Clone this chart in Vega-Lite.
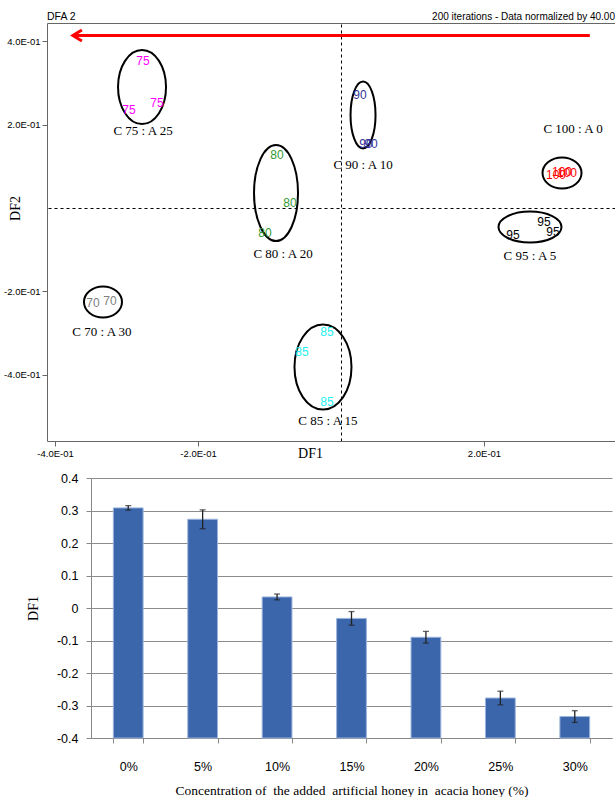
{
  "$schema": "https://vega.github.io/schema/vega-lite/v6.json",
  "padding": {"left": 3, "top": 12, "right": 0, "bottom": 0},
  "spacing": 12,
  "config": {"view": {"stroke": null}},
  "vconcat": [
    {
      "width": 568,
      "height": 418,
      "layer": [
        {
          "data": {"values": [
            {"g": "70", "x": -0.3329, "y": -0.2256},
            {"g": "75", "x": -0.2783, "y": 0.2904},
            {"g": "80", "x": -0.0909, "y": 0.0360},
            {"g": "85", "x": -0.0252, "y": -0.3816},
            {"g": "90", "x": 0.0308, "y": 0.2232},
            {"g": "95", "x": 0.2643, "y": -0.0456},
            {"g": "100", "x": 0.3091, "y": 0.0840}
          ]},
          "mark": {"type": "point", "filled": false, "stroke": "#000", "strokeWidth": 2, "opacity": 1, "size": 4},
          "encoding": {
            "x": {"field": "x", "type": "quantitative", "scale": {"domain": [-0.4112, 0.3832], "nice": false, "zero": false},
              "axis": {"orient": "bottom", "values": [-0.4, -0.2, 0.2], "labelExpr": "(datum.value < 0 ? '-' : '') + format(abs(datum.value) * 10, '.1f') + 'E-01'", "grid": false, "labelFlush": false, "domainColor": "#666", "tickColor": "#666", "tickSize": 5, "labelPadding": 2, "labelFont": "Liberation Sans Narrow, Arial Narrow, Liberation Sans, sans-serif", "labelFontSize": 9.5, "labelColor": "#000", "title": "DF1", "titleFont": "Liberation Serif, Times New Roman, serif", "titleFontSize": 14, "titleFontWeight": "normal", "titleColor": "#000", "titleX": 263, "titleY": 12, "titleBaseline": "middle", "titleAlign": "center"}},
            "y": {"field": "y", "type": "quantitative", "scale": {"domain": [-0.559, 0.444], "nice": false, "zero": false},
              "axis": {"orient": "left", "values": [-0.4, -0.2, 0.2, 0.4], "labelExpr": "(datum.value < 0 ? '-' : '') + format(abs(datum.value) * 10, '.1f') + 'E-01'", "grid": false, "labelFlush": false, "domainColor": "#666", "tickColor": "#666", "tickSize": 5, "labelPadding": 2, "labelFont": "Liberation Sans Narrow, Arial Narrow, Liberation Sans, sans-serif", "labelFontSize": 9.5, "labelColor": "#000", "minExtent": 44, "maxExtent": 44, "title": "DF2", "titleFont": "Liberation Serif, Times New Roman, serif", "titleFontSize": 14, "titleFontWeight": "normal", "titleColor": "#000", "titleAngle": 270, "titleBaseline": "middle", "titleAlign": "center", "titleX": -32, "titleY": 185}},
            "shape": {"field": "g", "type": "nominal", "legend": null, "scale": {"domain": ["70", "75", "80", "85", "90", "95", "100"], "range": [
              "M 19 0 C 19 8.561 10.494 15.5 0 15.5 C -10.494 15.5 -19 8.561 -19 0 C -19 -8.561 -10.494 -15.5 0 -15.5 C 10.494 -15.5 19 -8.561 19 0 Z",
              "M 24 0 C 24 20.435 13.255 37 0 37 C -13.255 37 -24 20.435 -24 0 C -24 -20.435 -13.255 -37 0 -37 C 13.255 -37 24 -20.435 24 0 Z",
              "M 22 0 C 22 26.51 12.151 48 0 48 C -12.151 48 -22 26.51 -22 0 C -22 -26.51 -12.151 -48 0 -48 C 12.151 -48 22 -26.51 22 0 Z",
              "M 28.5 0 C 28.5 23.473 15.741 42.5 0 42.5 C -15.741 42.5 -28.5 23.473 -28.5 0 C -28.5 -23.473 -15.741 -42.5 0 -42.5 C 15.741 -42.5 28.5 -23.473 28.5 0 Z",
              "M 12.5 0 C 12.5 18.502 6.904 33.5 0 33.5 C -6.904 33.5 -12.5 18.502 -12.5 0 C -12.5 -18.502 -6.904 -33.5 0 -33.5 C 6.904 -33.5 12.5 -18.502 12.5 0 Z",
              "M 31.5 0 C 31.5 8.561 17.397 15.5 0 15.5 C -17.397 15.5 -31.5 8.561 -31.5 0 C -31.5 -8.561 -17.397 -15.5 0 -15.5 C 17.397 -15.5 31.5 -8.561 31.5 0 Z",
              "M 19.5 0 C 19.5 8.561 10.77 15.5 0 15.5 C -10.77 15.5 -19.5 8.561 -19.5 0 C -19.5 -8.561 -10.77 -15.5 0 -15.5 C 10.77 -15.5 19.5 -8.561 19.5 0 Z"
            ]}}
          }
        },
        {
          "data": {"values": [
            {"g": "75", "x": -0.2769, "y": 0.3528},
            {"g": "75", "x": -0.2965, "y": 0.2352},
            {"g": "75", "x": -0.2574, "y": 0.2520},
            {"g": "90", "x": 0.0266, "y": 0.2712},
            {"g": "90", "x": 0.0350, "y": 0.1536},
            {"g": "90", "x": 0.0420, "y": 0.1536},
            {"g": "80", "x": -0.0895, "y": 0.1272},
            {"g": "80", "x": -0.0713, "y": 0.0120},
            {"g": "80", "x": -0.1063, "y": -0.0600},
            {"g": "100", "x": 0.3007, "y": 0.0792},
            {"g": "100", "x": 0.3091, "y": 0.0864},
            {"g": "100", "x": 0.3161, "y": 0.0840},
            {"g": "95", "x": 0.2839, "y": -0.0336},
            {"g": "95", "x": 0.2965, "y": -0.0576},
            {"g": "95", "x": 0.2406, "y": -0.0648},
            {"g": "70", "x": -0.3469, "y": -0.2280},
            {"g": "70", "x": -0.3231, "y": -0.2232},
            {"g": "85", "x": -0.0196, "y": -0.2976},
            {"g": "85", "x": -0.0546, "y": -0.3456},
            {"g": "85", "x": -0.0196, "y": -0.4656}
          ]},
          "mark": {"type": "text", "font": "Liberation Sans Narrow, Arial Narrow, Liberation Sans, sans-serif", "fontSize": 12},
          "encoding": {
            "x": {"field": "x", "type": "quantitative", "scale": {"domain": [-0.4112, 0.3832], "nice": false, "zero": false}, "axis": null},
            "y": {"field": "y", "type": "quantitative", "scale": {"domain": [-0.559, 0.444], "nice": false, "zero": false}, "axis": null},
            "text": {"field": "g", "type": "nominal"},
            "color": {"field": "g", "type": "nominal", "legend": null, "scale": {"domain": ["70", "75", "80", "85", "90", "95", "100"], "range": ["#808080", "#FF00FF", "#339933", "#22F2F2", "#333399", "#000000", "#FF0000"]}}
          }
        },
        {
          "data": {"values": [
            {"t": "C 75 : A 25", "x": -0.2769, "y": 0.1848},
            {"t": "C 90 : A 10", "x": 0.0308, "y": 0.1032},
            {"t": "C 80 : A 20", "x": -0.0811, "y": -0.1104},
            {"t": "C 100 : A 0", "x": 0.3245, "y": 0.1896},
            {"t": "C 95 : A 5", "x": 0.2643, "y": -0.1152},
            {"t": "C 70 : A 30", "x": -0.3343, "y": -0.2976},
            {"t": "C 85 : A 15", "x": -0.0182, "y": -0.5112}
          ]},
          "mark": {"type": "text", "font": "Liberation Serif, Times New Roman, serif", "fontSize": 13, "color": "#000"},
          "encoding": {
            "x": {"field": "x", "type": "quantitative", "scale": {"domain": [-0.4112, 0.3832], "nice": false, "zero": false},
              "axis": {"orient": "top", "values": [0], "grid": true, "gridDash": [3, 3], "gridColor": "#000", "gridOpacity": 1, "labels": false, "ticks": false, "domain": true, "domainColor": "#666", "title": null}},
            "y": {"field": "y", "type": "quantitative", "scale": {"domain": [-0.559, 0.444], "nice": false, "zero": false},
              "axis": {"orient": "right", "values": [0], "grid": true, "gridDash": [3, 3], "gridColor": "#000", "gridOpacity": 1, "labels": false, "ticks": false, "domain": false, "title": null}},
            "text": {"field": "t", "type": "nominal"}
          }
        },
        {
          "data": {"values": [{"x": -0.373, "x2": 0.348, "y": 0.414}]},
          "mark": {"type": "rule", "color": "#FF0000", "strokeWidth": 3},
          "encoding": {
            "x": {"field": "x", "type": "quantitative", "scale": {"domain": [-0.4112, 0.3832], "nice": false, "zero": false}, "axis": null},
            "x2": {"field": "x2"},
            "y": {"field": "y", "type": "quantitative", "scale": {"domain": [-0.559, 0.444], "nice": false, "zero": false}, "axis": null}
          }
        },
        {
          "data": {"values": [{"x": -0.375, "y": 0.414}]},
          "mark": {"type": "point", "shape": "M 0.9 -0.55 L 0 0 L 0.9 0.55", "size": 400, "filled": false, "stroke": "#FF0000", "strokeWidth": 3, "opacity": 1},
          "encoding": {
            "x": {"field": "x", "type": "quantitative", "scale": {"domain": [-0.4112, 0.3832], "nice": false, "zero": false}, "axis": null},
            "y": {"field": "y", "type": "quantitative", "scale": {"domain": [-0.559, 0.444], "nice": false, "zero": false}, "axis": null}
          }
        },
        {
          "data": {"values": [{"t": "200 iterations - Data normalized by 40.00"}]},
          "mark": {"type": "text", "font": "Liberation Sans Narrow, Arial Narrow, Liberation Sans, sans-serif", "fontSize": 10, "align": "right", "baseline": "alphabetic", "dy": -3, "color": "#000"},
          "encoding": {
            "x": {"datum": 0.3832, "type": "quantitative", "scale": {"domain": [-0.4112, 0.3832], "nice": false, "zero": false}, "axis": null},
            "y": {"datum": 0.444, "type": "quantitative", "scale": {"domain": [-0.559, 0.444], "nice": false, "zero": false}, "axis": null},
            "text": {"field": "t", "type": "nominal"}
          }
        },
        {
          "data": {"values": [{"t": "DFA 2"}]},
          "mark": {"type": "text", "font": "Liberation Sans Narrow, Arial Narrow, Liberation Sans, sans-serif", "fontSize": 10.5, "align": "left", "baseline": "alphabetic", "dy": -3, "color": "#000"},
          "encoding": {
            "x": {"datum": -0.4112, "type": "quantitative", "scale": {"domain": [-0.4112, 0.3832], "nice": false, "zero": false}, "axis": null},
            "y": {"datum": 0.444, "type": "quantitative", "scale": {"domain": [-0.559, 0.444], "nice": false, "zero": false}, "axis": null},
            "text": {"field": "t", "type": "nominal"}
          }
        }
      ]
    },
    {
      "bounds": "flush",
      "spacing": 0,
      "hconcat": [
        {"width": 44, "height": 10, "data": {"values": [{}]}, "mark": {"type": "text"}, "encoding": {}},
        {
          "width": 521,
          "height": 260,
          "data": {"values": [
            {"c": "0%", "v": 0.308, "e": 0.007},
            {"c": "5%", "v": 0.273, "e": 0.029},
            {"c": "10%", "v": 0.034, "e": 0.009},
            {"c": "15%", "v": -0.032, "e": 0.021},
            {"c": "20%", "v": -0.090, "e": 0.018},
            {"c": "25%", "v": -0.277, "e": 0.021},
            {"c": "30%", "v": -0.334, "e": 0.018}
          ]},
          "encoding": {
            "x": {"field": "c", "type": "ordinal", "sort": null, "scale": {"paddingInner": 0.6, "paddingOuter": 0.3},
              "axis": {"tickBand": "extent", "labelAngle": 0, "tickSize": 5, "tickColor": "#888", "domainColor": "#888", "labelFont": "Liberation Sans, Arial, sans-serif", "labelFontSize": 12.5, "labelColor": "#000", "labelPadding": 17, "title": "Concentration of\u00a0 the added\u00a0 artificial honey in\u00a0 acacia honey (%)", "titleFont": "Liberation Serif, Times New Roman, serif", "titleFontSize": 13.5, "titleFontWeight": "normal", "titleColor": "#000", "titlePadding": 11}},
            "y": {"field": "v", "type": "quantitative", "scale": {"domain": [-0.4, 0.4], "nice": false, "zero": false},
              "axis": {"values": [-0.4, -0.3, -0.2, -0.1, 0, 0.1, 0.2, 0.3, 0.4], "labelExpr": "replace(format(datum.value, '.1~f'), '\u2212', '-')", "grid": true, "gridColor": "#8c8c8c", "domainColor": "#888", "tickColor": "#888", "tickSize": 5, "labelPadding": 8, "labelFont": "Liberation Sans, Arial, sans-serif", "labelFontSize": 12.5, "labelColor": "#000", "title": "DF1", "titleFont": "Liberation Serif, Times New Roman, serif", "titleFontSize": 14, "titleFontWeight": "normal", "titleColor": "#000", "titleAngle": 270, "titleBaseline": "middle", "titleAlign": "center", "titleX": -58, "titleY": 130}}
          },
          "layer": [
            {
              "mark": {"type": "bar", "color": "#3C66AC", "stroke": "#9AB4DC", "strokeWidth": 1},
              "encoding": {"y2": {"datum": -0.4}}
            },
            {
              "mark": {"type": "errorbar", "ticks": {"size": 6, "thickness": 1.3}, "rule": {"strokeWidth": 1.3}, "color": "#222"},
              "encoding": {"yError": {"field": "e"}}
            }
          ]
        }
      ]
    }
  ]
}
